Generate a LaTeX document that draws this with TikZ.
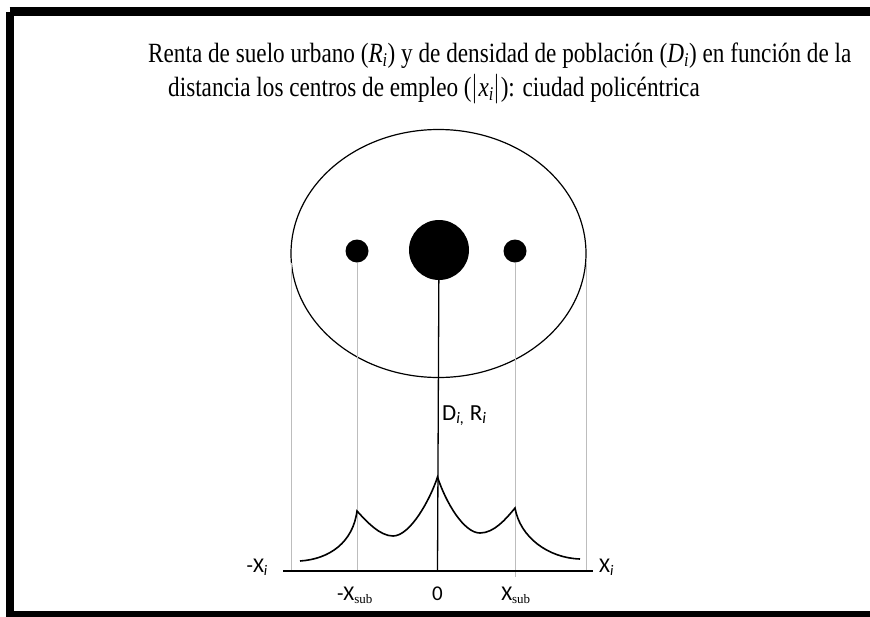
\documentclass[tikz,border=0pt]{standalone}
\usepackage{fontspec}
\setmainfont{Liberation Serif}
\newfontfamily\lblfont{Carlito}
\usepackage{graphicx}
\usepackage{xcolor}
\usepackage{tikz}
\definecolor{PCGuide}{HTML}{BDBDBD}

\tikzset{
  guide/.style={PCGuide,line width=1pt},
  lbl/.style={font=\lblfont\fontsize{21}{23}\selectfont,inner sep=0pt},
  ttl/.style={anchor=base west,inner sep=0pt,font=\fontsize{23.2}{26}\selectfont},
  centre/.style={circle,fill=black,inner sep=0pt}
}
\newcommand{\isub}{\textsubscript{\itshape i}}
\newcommand{\subsub}{\textsubscript{\rmfamily\fontsize{13}{13}\selectfont sub}}

\begin{document}
\begin{tikzpicture}[x=1pt,y=-1pt]
\path[use as bounding box] (0,0) rectangle (870,616);
\fill[white] (0,0) rectangle (870,616);
\draw[line width=8pt] (9.5,11.5) -- (9.5,614.5) -- (900,614.5);
\draw[line width=9pt] (9.5,11.5) -- (900,11.5);
% title
\node[ttl] (t1) at (148,62)
  {\scalebox{1}[1.2]{Renta de suelo urbano (\textit{R}\textsubscript{\textit{i}}) y de densidad de poblaci\'on (\textit{D}\textsubscript{\textit{i}}) en funci\'on de la}};
\node[ttl] (t2) at (168,96)
  {\scalebox{1}[1.2]{distancia los centros de empleo ($|$\textit{x}\textsubscript{\textit{i}}$|$): ciudad polic\'entrica}};
% city
\draw[line width=1.2pt] (438.5,253.5) ellipse [x radius=147.5,y radius=124];
\node[centre,minimum size=60pt] (cbd) at (439,250) {};
\node[centre,minimum size=23pt] (subl) at (357,251) {};
\node[centre,minimum size=23pt] (subr) at (515,251) {};
% axis
\coordinate (axl) at (283,571);
\coordinate (axr) at (593,571);
\coordinate (o) at (437.5,571);
\coordinate (xl) at (357,571);
\coordinate (xr) at (515,577);
\coordinate (el) at (291,263);
\coordinate (er) at (586,263);
\draw[guide] (el) -- (291,571);
\draw[guide] (er) -- (586,571);
\draw[guide] (subl) -- (xl);
\draw[guide] (subr) -- (xr);
\draw[line width=1.5pt] (axl) -- (axr);
\draw[line width=1.3pt] (cbd) -- (o);
% rent / density curve
\draw[line width=1.6pt,line join=miter]
  (300,561) .. controls (330,559) and (353,542) .. (357,511)
  .. controls (367,522) and (380,536) .. (393,536)
  .. controls (410,536) and (430,500) .. (437.5,477)
  .. controls (446,503) and (464,533) .. (480,533)
  .. controls (494,533) and (506,519) .. (515,508)
  .. controls (520,537) and (548,558) .. (580,559);
% labels
\node[lbl,anchor=base west,font=\lblfont\fontsize{23}{25}\selectfont] (dr) at (442,420) {D\textsubscript{\itshape i,} R\isub};
\node[lbl,anchor=base east] (mxi) at (268,572) {-X\isub};
\node[lbl,anchor=base west] (pxi) at (599,572) {X\isub};
\node[lbl,anchor=base] (mxs) at (355,600) {-X\subsub};
\node[lbl,anchor=base] (zero) at (437.5,600) {0};
\node[lbl,anchor=base] (pxs) at (516,600) {X\subsub};
\end{tikzpicture}
\end{document}
